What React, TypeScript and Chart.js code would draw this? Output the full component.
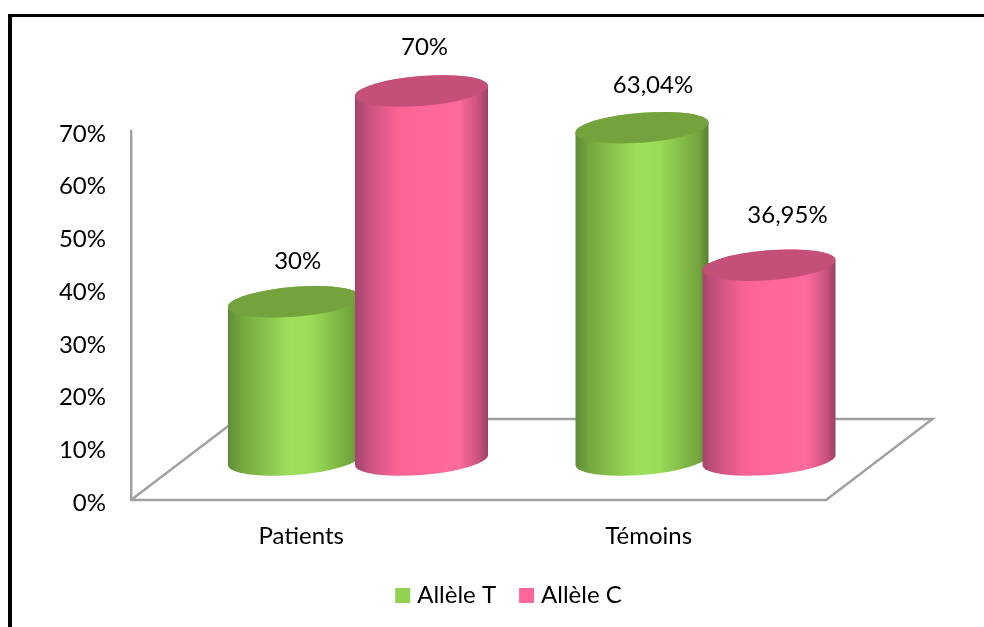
import React, { useEffect, useRef } from "react";
import { Chart, registerables } from "chart.js";

Chart.register(...registerables);

const categories = ["Patients", "Témoins"];
const seriesNames = ["Allèle T", "Allèle C"];
const alleleT = [30, 63.04];
const alleleC = [70, 36.95];
const valueLabelsT = ["30%", "63,04%"];
const valueLabelsC = ["70%", "36,95%"];
const yTicksMax = 70;
const yTickStep = 10;

const FONT = "Lato, 'Open Sans', sans-serif";
const FONT_SIZE = 24;
const AXIS_GREY = "#a0a0a0";

// Depth of the pseudo-3D floor, and the shift of cylinders to the middle of it.
const FLOOR_DX = 106.5;
const FLOOR_DY = 81;
const BAR_DX = 53.25;
const BAR_DY = -40;
const BAR_WIDEN = 133 / 127;
const CAP_RY = 15;
const CAP_SHEAR = -0.0752;

const palettes = [
  {
    swatch: "#92d050",
    cap: "#74a33e",
    stops: [
      [0, "#5f8c37"],
      [0.1, "#75a63f"],
      [0.47, "#9ee05b"],
      [0.62, "#9ade58"],
      [0.93, "#73a43e"],
      [1, "#56802f"],
    ],
  },
  {
    swatch: "#ff6699",
    cap: "#c44f78",
    stops: [
      [0, "#a4446c"],
      [0.1, "#c6517f"],
      [0.33, "#fd6496"],
      [0.78, "#ff699c"],
      [0.93, "#c95280"],
      [1, "#9a4066"],
    ],
  },
];

// Per-label placement of the value captions relative to the top of each cylinder.
const captionNudges = [
  [[3.2, -41], [11, -42]],
  [[3, -43.5], [18.5, -49.5]],
];
const captionTexts = [valueLabelsT, valueLabelsC];

function ellipseArc(ctx: CanvasRenderingContext2D, cx: number, cy: number, rx: number, start: number, end: number) {
  ctx.save();
  ctx.transform(1, CAP_SHEAR, 0, 1, cx, cy);
  ctx.ellipse(0, 0, rx, CAP_RY, 0, start, end);
  ctx.restore();
}

function drawCylinder(ctx: CanvasRenderingContext2D, bar: any, palette: any) {
  const cx = bar.x + BAR_DX;
  const topY = bar.y + BAR_DY;
  const botY = bar.base + BAR_DY;
  const rx = (bar.width * BAR_WIDEN) / 2;

  const grad = ctx.createLinearGradient(cx - rx, 0, cx + rx, 0);
  palette.stops.forEach(([at, color]: [number, string]) => grad.addColorStop(at, color));

  ctx.beginPath();
  ellipseArc(ctx, cx, topY, rx, Math.PI, 0);
  ellipseArc(ctx, cx, botY, rx, 0, Math.PI);
  ctx.closePath();
  ctx.fillStyle = grad;
  ctx.fill();

  ctx.beginPath();
  ellipseArc(ctx, cx, topY, rx, 0, Math.PI * 2);
  ctx.fillStyle = palette.cap;
  ctx.fill();
}

const cylinderPlugin = {
  id: "cylinders",
  afterLayout(chart: any) {
    // Centre the legend under the floor rather than under the plot box.
    const legend = chart.legend;
    if (!legend) return;
    const dx = 98;
    legend.left += dx;
    legend.right += dx;
    legend.top = 555.5;
  },
  beforeDraw(chart: any) {
    const ctx = chart.ctx;
    ctx.save();
    ctx.fillStyle = "#ffffff";
    ctx.fillRect(0, 0, chart.width, chart.height);
    ctx.fillStyle = "#000000";
    ctx.fillRect(8, 14, chart.width - 8, 3);
    ctx.fillRect(8, 14, 4, chart.height - 14);
    ctx.restore();
  },
  beforeDatasetsDraw(chart: any) {
    const ctx = chart.ctx;
    const { left, right, bottom } = chart.chartArea;

    ctx.save();
    ctx.strokeStyle = AXIS_GREY;
    ctx.lineWidth = 2.4;
    ctx.lineJoin = "miter";
    ctx.beginPath();
    ctx.moveTo(left, bottom);
    ctx.lineTo(left + FLOOR_DX, bottom - FLOOR_DY);
    ctx.lineTo(right + FLOOR_DX, bottom - FLOOR_DY);
    ctx.lineTo(right, bottom);
    ctx.lineTo(left, bottom);
    ctx.stroke();
    ctx.restore();

    chart.data.datasets.forEach((_: any, i: number) => {
      chart.getDatasetMeta(i).data.forEach((bar: any) => {
        drawCylinder(ctx, bar, palettes[i]);
      });
    });
    return false;
  },
  afterDraw(chart: any) {
    const ctx = chart.ctx;
    ctx.save();
    ctx.fillStyle = "#000000";
    ctx.font = `${FONT_SIZE}px ${FONT}`;
    ctx.textAlign = "center";
    ctx.textBaseline = "middle";
    chart.data.datasets.forEach((_: any, i: number) => {
      chart.getDatasetMeta(i).data.forEach((bar: any, j: number) => {
        const [nx, ny] = captionNudges[i][j];
        ctx.fillText(captionTexts[i][j], bar.x + BAR_DX + nx, bar.y + BAR_DY + ny);
      });
    });
    ctx.restore();
  },
};

export default function App() {
  const ref = useRef<HTMLCanvasElement | null>(null);

  useEffect(() => {
    document.body.style.margin = "0";
    const chart = new Chart(ref.current as HTMLCanvasElement, {
      type: "bar",
      data: {
        labels: categories,
        datasets: [
          { label: seriesNames[0], data: alleleT, backgroundColor: palettes[0].swatch },
          { label: seriesNames[1], data: alleleC, backgroundColor: palettes[1].swatch },
        ],
      },
      options: {
        responsive: false,
        animation: false,
        layout: { padding: { left: 0, right: 158, top: 131, bottom: 0 } },
        datasets: { bar: { categoryPercentage: 0.731, barPercentage: 1 } },
        plugins: {
          tooltip: { enabled: false },
          legend: {
            position: "bottom",
            labels: {
              font: { family: FONT, size: FONT_SIZE },
              color: "#000000",
              boxWidth: 5,
              boxHeight: 5,
              padding: 28,
              generateLabels: (c: any) =>
                c.data.datasets.map((d: any, i: number) => ({
                  text: d.label,
                  fillStyle: d.backgroundColor,
                  strokeStyle: d.backgroundColor,
                  lineWidth: 10,
                  datasetIndex: i,
                })),
            },
          },
        },
        scales: {
          x: {
            grid: { display: false, drawTicks: false },
            border: { display: false },
            ticks: {
              font: { family: FONT, size: FONT_SIZE },
              color: "#000000",
              padding: 22,
              labelOffset: -3.5,
              maxRotation: 0,
            },
            afterFit: (s: any) => {
              s.height = 127 - (s.chart.legend?.height ?? 0);
            },
          },
          y: {
            min: 0,
            max: yTicksMax,
            grid: { display: false, drawTicks: false },
            border: { display: true, color: AXIS_GREY, width: 2.4 },
            ticks: {
              stepSize: yTickStep,
              font: { family: FONT, size: FONT_SIZE },
              color: "#000000",
              padding: 25,
              labelOffset: 3,
              callback: (v: any) => `${v}%`,
            },
            afterFit: (s: any) => {
              s.width = 131;
            },
          },
        },
      },
      plugins: [cylinderPlugin],
    } as any);
    return () => chart.destroy();
  }, []);

  return <canvas ref={ref} width={984} height={627} style={{ display: "block" }} />;
}
